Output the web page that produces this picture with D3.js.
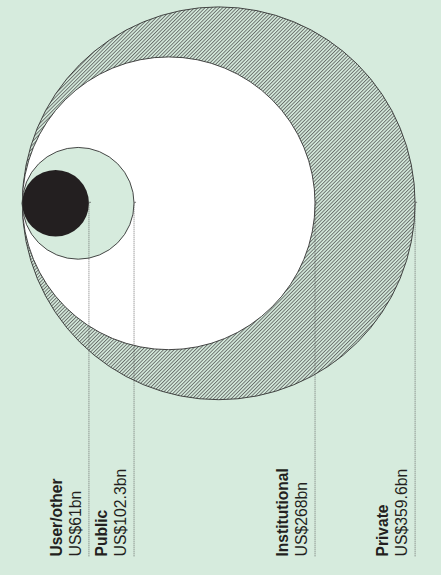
<!DOCTYPE html>
<html>
<head>
<meta charset="utf-8">
<script src="https://cdn.jsdelivr.net/npm/d3@7"></script>
<style>
  html, body { margin: 0; padding: 0; background: #d6ebdd; }
  svg { display: block; }
  text { font-family: "Liberation Sans", Arial, sans-serif; fill: #231f20; }
</style>
</head>
<body>
<svg id="chart" width="441" height="575"></svg>
<script>
// Funding sources, in US$ billions
const categories = ["Private", "Institutional", "Public", "User/other"];
const values = [359.6, 268, 102.3, 61];
const valueLabels = ["US$359.6bn", "US$268bn", "US$102.3bn", "US$61bn"];
const fills = ["url(#hatch)", "#ffffff", "#d6ebdd", "#231f20"];

const W = 441, H = 575;
const svg = d3.select("#chart");

// diagonal hatch used for the largest circle
const defs = svg.append("defs");
const step = 2.5;
const pat = defs.append("pattern")
  .attr("id", "hatch")
  .attr("patternUnits", "userSpaceOnUse")
  .attr("width", step).attr("height", step)
  .attr("patternTransform", "rotate(45)");
pat.append("rect").attr("width", step).attr("height", step).attr("fill", "#d6ebdd");
pat.append("line")
  .attr("x1", 0.5).attr("y1", 0).attr("x2", 0.5).attr("y2", step)
  .attr("stroke", "#444").attr("stroke-width", 0.7);

// radius proportional to value; every circle touches the same left point
const r = d3.scaleLinear().domain([0, d3.max(values)]).range([0, 196.4]);
const anchorX = 22.3, cy = 203.3;
const baseY = 556.5;

const data = categories.map((c, i) => ({
  name: c, value: values[i], label: valueLabels[i], fill: fills[i]
}));

svg.selectAll("circle.bubble")
  .data(data)
  .join("circle")
  .attr("class", "bubble")
  .attr("cx", d => anchorX + r(d.value))
  .attr("cy", cy)
  .attr("r", d => r(d.value))
  .attr("fill", d => d.fill)
  .attr("stroke", (d, i) => i === data.length - 1 ? "none" : "#333")
  .attr("stroke-width", 0.9);

// leader lines from each circle's right edge down to its label
const edgeX = d => anchorX + 2 * r(d.value);

svg.selectAll("line.leader")
  .data(data)
  .join("line")
  .attr("class", "leader")
  .attr("x1", edgeX).attr("x2", edgeX)
  .attr("y1", cy).attr("y2", baseY + 0.5)
  .attr("stroke", "#555")
  .attr("stroke-width", 0.8)
  .attr("stroke-dasharray", "1 1");

svg.selectAll("line.tick")
  .data(data)
  .join("line")
  .attr("class", "tick")
  .attr("x1", edgeX).attr("x2", d => edgeX(d) + 2)
  .attr("y1", cy - 1).attr("y2", cy - 1)
  .attr("stroke", "#555")
  .attr("stroke-width", 0.8);

// rotated labels
const labels = svg.selectAll("g.label")
  .data(data)
  .join("g")
  .attr("class", "label");

labels.append("text")
  .attr("transform", d => `translate(${edgeX(d) - 27},${baseY}) rotate(-90)`)
  .attr("font-size", 15.6)
  .attr("font-weight", "bold")
  .text(d => d.name);

labels.append("text")
  .attr("transform", d => `translate(${edgeX(d) - 8},${baseY}) rotate(-90)`)
  .attr("font-size", 15.8)
  .text(d => d.label);
</script>
</body>
</html>
